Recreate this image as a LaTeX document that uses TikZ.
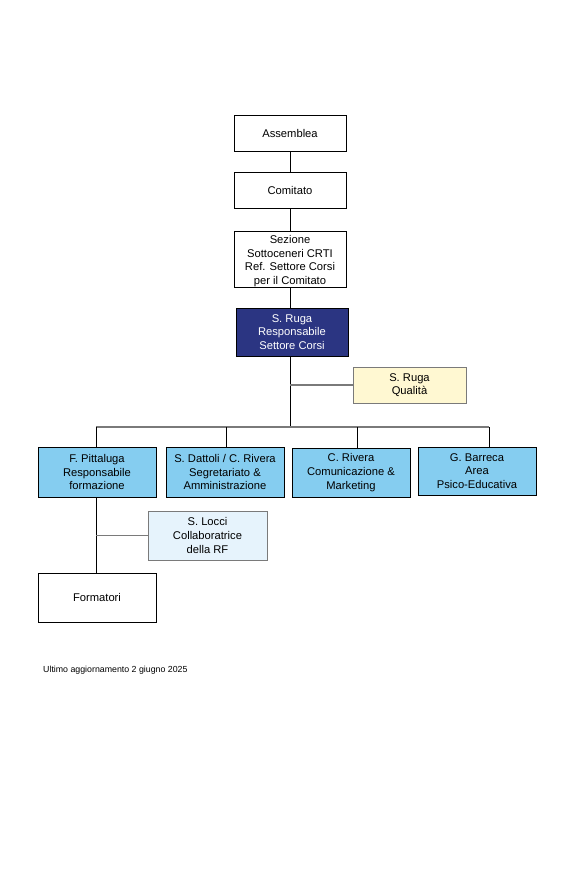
\documentclass[tikz,border=0pt]{standalone}
\usepackage{fontspec}
\setmainfont{Liberation Sans}
\definecolor{navy}{HTML}{2B3582}
\definecolor{skyb}{HTML}{85CDF0}
\definecolor{paleb}{HTML}{E6F3FC}
\definecolor{paley}{HTML}{FFF8D2}
\definecolor{lgray}{HTML}{7A7A7A}
\begin{document}
\begin{tikzpicture}[x=1pt,y=-1pt,
  box/.style={draw=black,line width=0.8pt,align=center,inner sep=0pt,
    font=\fontsize{11.2}{13.6}\selectfont},
  wbox/.style={box,fill=white},
  conn/.style={draw=black,line width=0.8pt},
  gconn/.style={draw=lgray,line width=1.2pt}]
\useasboundingbox (0,0) rectangle (574,880);
\node[wbox,minimum width=112pt,minimum height=36pt] (ass) at (290,133) {Assemblea};
\node[wbox,minimum width=112pt,minimum height=36pt] (com) at (290,190) {Comitato};
\node[wbox,minimum width=112pt,minimum height=56pt] (sez) at (290,259) {};
\node[align=center,inner sep=0pt,font=\fontsize{11.2}{13.6}\selectfont] (sezt) at (290,261) {Sezione\\Sottoceneri CRTI\\Ref. Settore Corsi\\per il Comitato};
\node[box,fill=navy,text=white,minimum width=112pt,minimum height=48pt] (rug) at (292,332) {S. Ruga\\Responsabile\\Settore Corsi};
\node[box,draw=lgray,fill=paley,minimum width=113pt,minimum height=36pt] (qual) at (409.5,385) {S. Ruga\\Qualità};
\node[box,fill=skyb,minimum width=118pt,minimum height=50pt] (pit) at (97,472) {F. Pittaluga\\Responsabile\\formazione};
\node[box,fill=skyb,minimum width=118pt,minimum height=50pt] (dat) at (225,472) {S. Dattoli / C. Rivera\\Segretariato \&\\Amministrazione};
\node[box,fill=skyb,minimum width=118pt,minimum height=49pt] (riv) at (351,472.5) {C. Rivera\\Comunicazione \&\\Marketing};
\node[box,fill=skyb,minimum width=118pt,minimum height=48pt] (bar) at (477,471) {G. Barreca\\Area\\Psico-Educativa};
\node[box,draw=lgray,fill=paleb,minimum width=119pt,minimum height=49pt] (loc) at (207.5,535.5) {S. Locci\\Collaboratrice\\della RF};
\node[wbox,minimum width=118pt,minimum height=49pt] (for) at (97,597.5) {Formatori};
\node[anchor=west,inner sep=0pt,font=\fontsize{8.8}{10}\selectfont] (foot) at (43,670) {Ultimo aggiornamento 2 giugno 2025};
\coordinate (bl) at (96,427);
\coordinate (br) at (489,427);
\coordinate (bm) at (290,427);
\coordinate (qj) at (290,385);
\coordinate (lj) at (96,535.5);
\draw[conn] (ass) -- (com);
\draw[conn] (com) -- (sez);
\draw[conn] (sez.south) -- (290,308);
\draw[conn] (290,356) -- (bm);
\draw[gconn] (qj) -- (qual.west);
\draw[gconn] (bl) -- (br);
\draw[conn] (bl) -- (96,447);
\draw[conn] (226,427) -- (226,447);
\draw[conn] (357,427) -- (357,448);
\draw[conn] (br) -- (489,447);
\draw[conn] (96,497) -- (96,573);
\draw[gconn] (lj) -- (loc.west);
\end{tikzpicture}
\end{document}
